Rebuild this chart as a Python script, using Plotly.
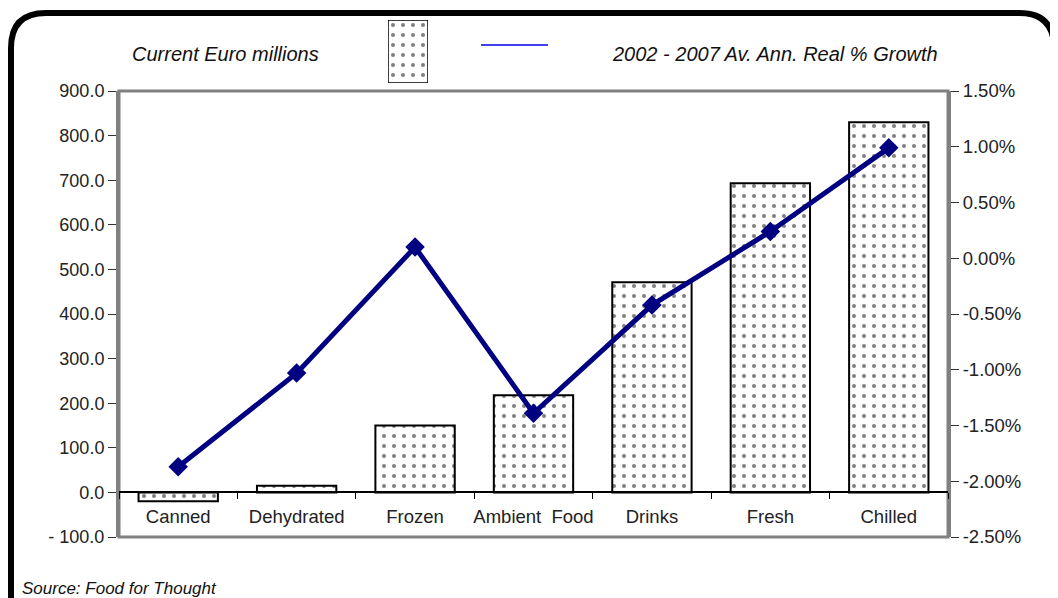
import plotly.graph_objects as go

categories = ["Canned", "Dehydrated", "Frozen", "Ambient  Food", "Drinks", "Fresh", "Chilled"]
market_value = [-20, 15, 150, 218, 471, 693, 830]          # Current Euro millions
growth_pct = [-1.87, -1.03, 0.10, -1.39, -0.42, 0.24, 0.99]  # 2002-2007 av. ann. real % growth

left_ticks = [-100, 0, 100, 200, 300, 400, 500, 600, 700, 800, 900]
left_ticktext = ["- 100.0", "0.0", "100.0", "200.0", "300.0", "400.0", "500.0",
                 "600.0", "700.0", "800.0", "900.0"]
right_ticks = [-2.5, -2.0, -1.5, -1.0, -0.5, 0.0, 0.5, 1.0, 1.5]
right_ticktext = ["-2.50%", "-2.00%", "-1.50%", "-1.00%", "-0.50%", "0.00%", "0.50%", "1.00%", "1.50%"]

# page body has an 8px margin: work in screen pixels, convert to figure pixels
OFF = 8
W, H = 1058 - OFF, 598 - OFF
S_LEFT, S_RIGHT, S_TOP, S_BOTTOM = 119, 948, 91, 537   # plot area in screen px
S_LTOP = 15                                              # top of paper region (screen)
ML = S_LEFT - OFF
MR = W - (S_RIGHT - OFF)
MT = S_LTOP - OFF
MB = H - (S_BOTTOM - OFF)
PW, PH = S_RIGHT - S_LEFT, S_BOTTOM - S_LTOP
def px(x): return (x - S_LEFT) / PW
def py(y): return (S_BOTTOM - y) / PH

main_top = py(S_TOP)

FONT = "Liberation Sans, Arial, sans-serif"

pattern = dict(shape=".", fgcolor="black", bgcolor="white", size=10, solidity=0.13)

fig = go.Figure()
fig.add_trace(go.Bar(
    x=categories, y=market_value, width=0.67,
    marker=dict(color="white", pattern=pattern, line=dict(color="black", width=2)),
    xaxis="x", yaxis="y", showlegend=False,
))
fig.add_trace(go.Scatter(
    x=categories, y=growth_pct, mode="lines+markers",
    line=dict(color="#000080", width=5),
    marker=dict(symbol="diamond", size=15, color="#000080"),
    xaxis="x", yaxis="y2", showlegend=False,
))
# legend swatch for bars
fig.add_trace(go.Bar(
    x=[0], y=[1], width=1,
    marker=dict(color="white", pattern=pattern, line=dict(color="black", width=1.5)),
    xaxis="x3", yaxis="y3", showlegend=False, hoverinfo="skip",
))

fig.update_layout(
    width=W, height=H,
    margin=dict(l=ML, r=MR, t=MT, b=MB, autoexpand=False),
    paper_bgcolor="white", plot_bgcolor="white",
    font=dict(family=FONT, size=18, color="#222"),
    xaxis=dict(
        domain=[0, 1], anchor="free", position=main_top * 0.1, automargin=False,
        showline=True, linecolor="black", linewidth=1.5,
        ticks="outside", tickson="boundaries", ticklen=6, tickcolor="black",
        tickfont=dict(size=18.5, color="#222"), ticklabelstandoff=8, tickangle=0,
        showgrid=False, fixedrange=True,
    ),
    yaxis=dict(
        domain=[0, main_top], range=[-100, 900], automargin=False,
        tickvals=left_ticks, ticktext=left_ticktext,
        showline=True, linecolor="#808080", linewidth=3,
        ticks="outside", ticklen=8, tickcolor="#333",
        showgrid=False, zeroline=False, tickfont=dict(size=18),
    ),
    yaxis2=dict(
        domain=[0, main_top], range=[-2.5, 1.5], overlaying="y", side="right", anchor="x",
        automargin=False,
        tickvals=right_ticks, ticktext=right_ticktext,
        showline=True, linecolor="#808080", linewidth=3,
        ticks="outside", ticklen=8, tickcolor="#333",
        showgrid=False, zeroline=False, tickfont=dict(size=18.5),
    ),
    xaxis3=dict(domain=[px(388), px(428)], anchor="y3", range=[-0.5, 0.5],
                visible=False, fixedrange=True),
    yaxis3=dict(domain=[py(83), py(20)], anchor="x3", range=[0, 1],
                visible=False, fixedrange=True),
)

shapes = []
# gray plot frame (top and bottom)
shapes.append(dict(type="rect", xref="paper", yref="paper", x0=0, x1=1, y0=0, y1=main_top,
                   line=dict(color="#808080", width=3), layer="below"))
# legend line sample
shapes.append(dict(type="line", xref="paper", yref="paper", x0=px(481), x1=px(548),
                   y0=py(45), y1=py(45), line=dict(color="#0000ee", width=1.5)))
# rounded outer frame
xl, xr, yt, yb = px(11), px(1054), py(13), py(640)
rx, ry = 35 / PW, 35 / PH
path = (f"M {xl},{yb} L {xl},{yt - ry} Q {xl},{yt} {xl + rx},{yt} "
        f"L {xr - rx},{yt} Q {xr},{yt} {xr},{yt - ry} L {xr},{yb}")
shapes.append(dict(type="path", xref="paper", yref="paper", path=path,
                   line=dict(color="black", width=6)))
fig.update_layout(shapes=shapes)

fig.add_annotation(text="<i>Current Euro millions</i>", xref="paper", yref="paper",
                   x=px(225), y=py(54), showarrow=False, xanchor="center", yanchor="middle",
                   font=dict(size=20, color="#111"))
fig.add_annotation(text="<i>2002 - 2007 Av. Ann. Real % Growth</i>", xref="paper", yref="paper",
                   x=px(775), y=py(54), showarrow=False, xanchor="center", yanchor="middle",
                   font=dict(size=20, color="#111"))
fig.add_annotation(text="<i>Source: Food for Thought</i>", xref="paper", yref="paper",
                   x=px(20), y=py(588), showarrow=False, xanchor="left", yanchor="middle",
                   font=dict(size=17, color="#111"))

fig.write_html("out.html")
